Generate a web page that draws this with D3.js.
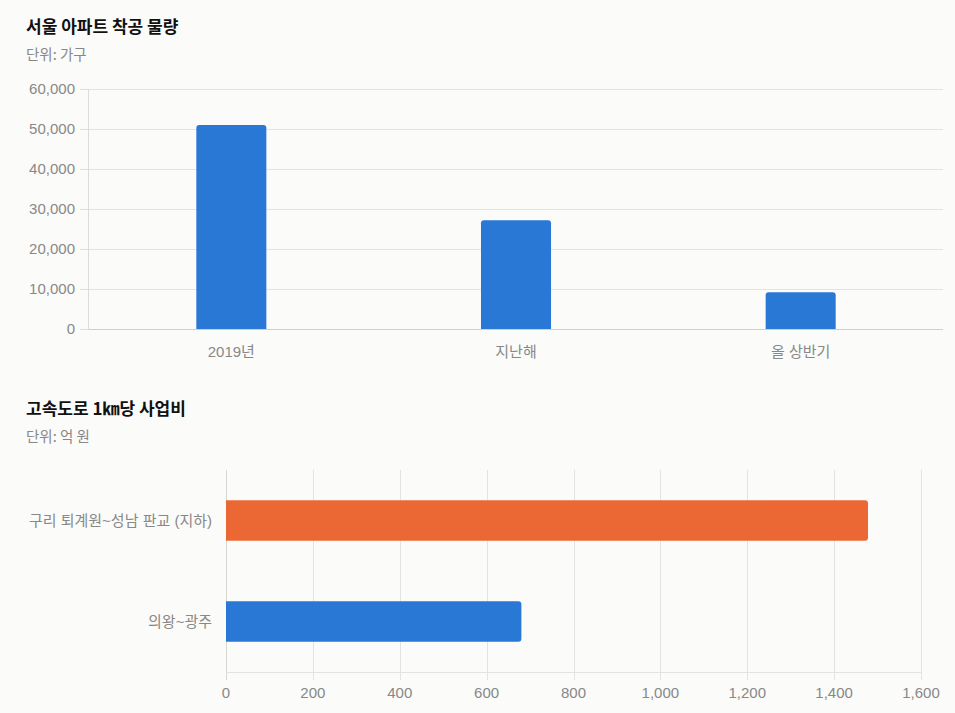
<!DOCTYPE html>
<html>
<head>
<meta charset="utf-8">
<script src="https://cdn.jsdelivr.net/npm/d3@7"></script>
<style>
  body { margin: 0; background: #fbfbf9; }
  svg { display: block; font-family: "Liberation Sans", Arial, "Noto Sans CJK KR", sans-serif; }
  .title { font-family: "Noto Sans CJK KR", sans-serif; font-weight: bold; font-size: 17px; fill: #111; }
  .sub { font-family: "Noto Sans CJK KR", sans-serif; font-size: 14.5px; fill: #888; }
  .tick-label { font-size: 15px; fill: #888; }
</style>
</head>
<body>
<svg id="chart" width="955" height="713"></svg>
<script>
// chart 1 data
var starts_categories = ["2019년", "지난해", "올 상반기"];
var starts_values = [51000, 27200, 9200];
var starts_ticks = [0, 10000, 20000, 30000, 40000, 50000, 60000];

// chart 2 data
var road_categories = ["구리 퇴계원~성남 판교 (지하)", "의왕~광주"];
var road_values = [1478, 680];
var road_colors = ["#eb6835", "#2a78d6"];
var road_ticks = [0, 200, 400, 600, 800, 1000, 1200, 1400, 1600];

var svg = d3.select("#chart");
var fmt = d3.format(",");

// rounded rect path, r = corner radius on the "end" side
function topRounded(x, y, w, h, r) {
    return "M" + x + "," + (y + h) +
        "V" + (y + r) +
        "Q" + x + "," + y + " " + (x + r) + "," + y +
        "H" + (x + w - r) +
        "Q" + (x + w) + "," + y + " " + (x + w) + "," + (y + r) +
        "V" + (y + h) + "Z";
}
function rightRounded(x, y, w, h, r) {
    return "M" + x + "," + y +
        "H" + (x + w - r) +
        "Q" + (x + w) + "," + y + " " + (x + w) + "," + (y + r) +
        "V" + (y + h - r) +
        "Q" + (x + w) + "," + (y + h) + " " + (x + w - r) + "," + (y + h) +
        "H" + x + "Z";
}

// ---------- chart 1: vertical bars ----------
svg.append("text").attr("class", "title").attr("x", 26).attr("y", 33).text("서울 아파트 착공 물량");
svg.append("text").attr("class", "sub").attr("x", 26).attr("y", 60).text("단위: 가구");

var x1 = d3.scaleBand()
    .domain(starts_categories)
    .range([89, 943])
    .paddingInner(0.754)
    .paddingOuter(0.377);

var y1 = d3.scaleLinear()
    .domain([0, 60000])
    .range([329, 89]);

var g1 = svg.append("g");

g1.append("g")
    .selectAll("line")
    .data(starts_ticks.slice(1))
    .enter().append("line")
    .attr("x1", 89).attr("x2", 943)
    .attr("y1", function (d) { return y1(d) + 0.5; })
    .attr("y2", function (d) { return y1(d) + 0.5; })
    .attr("stroke", "#e3e3e1");

g1.append("g")
    .selectAll("line")
    .data(starts_ticks)
    .enter().append("line")
    .attr("x1", 80).attr("x2", 89)
    .attr("y1", function (d) { return y1(d) + 0.5; })
    .attr("y2", function (d) { return y1(d) + 0.5; })
    .attr("stroke", "#dcdcda");

g1.append("line")
    .attr("x1", 88.5).attr("x2", 88.5)
    .attr("y1", 89).attr("y2", 329)
    .attr("stroke", "#dcdcda");

g1.append("g")
    .selectAll("text")
    .data(starts_ticks)
    .enter().append("text")
    .attr("class", "tick-label")
    .attr("x", 75)
    .attr("y", function (d) { return y1(d); })
    .attr("dy", "0.35em")
    .attr("text-anchor", "end")
    .text(fmt);

g1.append("g")
    .selectAll("path")
    .data(starts_values)
    .enter().append("path")
    .attr("fill", "#2a78d6")
    .attr("d", function (d, i) {
        var x = x1(starts_categories[i]);
        return topRounded(x, y1(d), x1.bandwidth(), y1(0) - y1(d), 3);
    });

g1.append("line")
    .attr("x1", 89).attr("x2", 943)
    .attr("y1", 329.5).attr("y2", 329.5)
    .attr("stroke", "#cfcfcd");

g1.append("g")
    .selectAll("text")
    .data(starts_categories)
    .enter().append("text")
    .attr("class", "tick-label")
    .attr("x", function (d) { return x1(d) + x1.bandwidth() / 2; })
    .attr("y", 357)
    .attr("text-anchor", "middle")
    .text(function (d) { return d; });

// ---------- chart 2: horizontal bars ----------
svg.append("text").attr("class", "title").attr("x", 26).attr("y", 415).text("고속도로 1㎞당 사업비");
svg.append("text").attr("class", "sub").attr("x", 26).attr("y", 442).text("단위: 억 원");

var x2 = d3.scaleLinear()
    .domain([0, 1600])
    .range([226, 921]);

var y2 = d3.scaleBand()
    .domain(road_categories)
    .range([470, 672])
    .paddingInner(0.6)
    .paddingOuter(0.3);

var g2 = svg.append("g");

g2.append("g")
    .selectAll("line")
    .data(road_ticks)
    .enter().append("line")
    .attr("x1", function (d) { return Math.round(x2(d)) + 0.5; })
    .attr("x2", function (d) { return Math.round(x2(d)) + 0.5; })
    .attr("y1", 470).attr("y2", 680)
    .attr("stroke", function (d) { return d === 0 ? "#d6d6d4" : "#e3e3e1"; });

g2.append("g")
    .selectAll("path")
    .data(road_values)
    .enter().append("path")
    .attr("fill", function (d, i) { return road_colors[i]; })
    .attr("d", function (d, i) {
        var y = y2(road_categories[i]);
        return rightRounded(x2(0), y, x2(d) - x2(0), y2.bandwidth(), 3);
    });

g2.append("line")
    .attr("x1", 226).attr("x2", 921)
    .attr("y1", 672.5).attr("y2", 672.5)
    .attr("stroke", "#e3e3e1");

g2.append("g")
    .selectAll("text")
    .data(road_ticks)
    .enter().append("text")
    .attr("class", "tick-label")
    .attr("x", function (d) { return x2(d); })
    .attr("y", 698)
    .attr("text-anchor", "middle")
    .text(fmt);

g2.append("g")
    .selectAll("text")
    .data(road_categories)
    .enter().append("text")
    .attr("class", "tick-label")
    .attr("x", 212)
    .attr("y", function (d) { return y2(d) + y2.bandwidth() / 2; })
    .attr("dy", "0.35em")
    .attr("text-anchor", "end")
    .text(function (d) { return d; });
</script>
</body>
</html>
